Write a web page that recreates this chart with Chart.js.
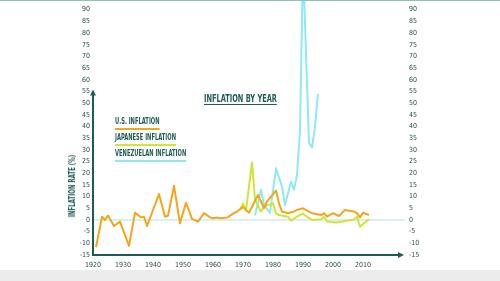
<!DOCTYPE html>
<html lang="en">
<head>
<meta charset="UTF-8">
<title>Inflation by year</title>
<style>
    body {
        margin: 0;
        width: 500px;
        height: 281px;
        overflow: hidden;
        position: relative;
        background: #fff;
        font-family: "Liberation Sans Narrow", "DejaVu Sans Condensed", sans-serif;
    }
    #topline { position: absolute; left: 0; top: 0; width: 500px; height: 1px; background: #8cc4bc; z-index: 2; }
    #bottomband { position: absolute; left: 0; top: 270px; width: 500px; height: 11px; background: #ececec; }
    #wrap { position: absolute; left: 0; top: -20px; width: 500px; height: 290px; }
    .txt { position: absolute; color: #1f5b55; font-weight: bold; white-space: nowrap; line-height: 10px; }
    #title { left: 204px; top: 93px; font-size: 10.5px; line-height: 10px; padding-bottom: 1px;
        border-bottom: 1px solid #1f5b55; transform: scaleX(0.7); transform-origin: left top; }
    .leg { left: 115px; font-size: 8px; padding-bottom: 1px; transform: scaleX(0.72); transform-origin: left top; }
    #legUS { top: 117px; border-bottom: 2px solid #f2a71b; }
    #legJP { top: 133px; border-bottom: 2px solid #cfe636; }
    #legVE { top: 149px; border-bottom: 2px solid #8ee9f3; }
    #ytitle { left: 73px; top: 186px; font-size: 8px; transform: translate(-50%, -50%) rotate(-90deg) scaleX(0.76); }
</style>
<script src="https://cdn.jsdelivr.net/npm/chart.js"></script>
</head>
<body>
<div id="topline"></div>
<div id="bottomband"></div>
<div id="wrap"><canvas id="chart" width="500" height="290"></canvas></div>
<div class="txt" id="title">INFLATION BY YEAR</div>
<div class="txt leg" id="legUS">U.S. INFLATION</div>
<div class="txt leg" id="legJP">JAPANESE INFLATION</div>
<div class="txt leg" id="legVE">VENEZUELAN INFLATION</div>
<div class="txt" id="ytitle">INFLATION RATE (%)</div>

<script>
// years and values (%)
const usYears = [1921, 1923, 1924, 1925, 1927, 1929, 1932, 1934, 1936, 1937, 1938, 1942, 1944, 1945, 1947, 1949,
    1951, 1953, 1955, 1957, 1959, 1960, 1961, 1963, 1965, 1966, 1967, 1968, 1970, 1972, 1975, 1977, 1978, 1981,
    1982, 1983, 1985, 1987, 1988, 1990, 1992, 1993, 1996, 1997, 1998, 2000, 2002, 2004, 2007, 2008, 2009, 2010, 2012];
const usValues = [-11.7, 1.4, 0, 1.9, -2.6, -0.7, -11.1, 3.1, 1.1, 1.4, -2.6, 11.1, 1.4, 1.8, 14.6, -1.4,
    7.4, 0.5, -0.7, 3.0, 1.1, 0.7, 1.0, 0.7, 1.1, 2.1, 2.9, 3.6, 5.5, 3.1, 10.7, 5.0, 7.9, 12.6,
    7.1, 3.6, 2.9, 3.6, 4.3, 5.0, 3.6, 2.9, 2.1, 2.9, 1.4, 2.9, 1.7, 4.3, 3.6, 2.9, 1.1, 3.1, 2.1];

const jpYears = [1969, 1970, 1971, 1973, 1974, 1976, 1977, 1980, 1981, 1982, 1985, 1986, 1988, 1990, 1991,
    1993, 1996, 1997, 1998, 2001, 2003, 2006, 2007, 2008, 2009, 2011, 2012];
const jpValues = [4.5, 7.1, 4.0, 24.6, 8.6, 3.6, 5.7, 7.1, 2.9, 2.1, 1.4, -0.3, 1.4, 2.8, 1.6,
    0, 0.3, 1.4, -0.7, -1.1, -0.7, 0, 0.3, 1.4, -2.9, -0.7, 0.3];

const veYears = [1974, 1976, 1977, 1979, 1981, 1983, 1984, 1986, 1987, 1988, 1989, 1990, 1992, 1993, 1994, 1995];
const veValues = [2.0, 12.9, 6.4, 3.0, 22.1, 14.3, 6.4, 16.4, 12.9, 19.3, 38.0, 110, 33.0, 31.0, 40.0, 54.0];

const yearMin = 1920, yearMax = 2024;
const rateMin = -15, rateMax = 95;

const teal = '#1f5b55';
const tickFont = { family: '"Liberation Sans Narrow", "DejaVu Sans Condensed", sans-serif', size: 7 };

function toPoints(xs, ys) {
    return xs.map((x, i) => ({ x: x, y: ys[i] }));
}

// zero line and axis arrows
const axesPlugin = {
    id: 'axesArrows',
    beforeDatasetsDraw(chart) {
        const ctx = chart.ctx;
        const x = chart.scales.x, y = chart.scales.y;
        const x0 = x.getPixelForValue(yearMin);
        const x1 = x.getPixelForValue(yearMax);
        const yb = y.getPixelForValue(rateMin);
        const yz = y.getPixelForValue(0);
        const yt = y.getPixelForValue(55);

        ctx.save();
        ctx.strokeStyle = '#b3e3e3';
        ctx.lineWidth = 1;
        ctx.beginPath();
        ctx.moveTo(x0, yz);
        ctx.lineTo(x1, yz);
        ctx.stroke();

        ctx.strokeStyle = teal;
        ctx.fillStyle = teal;
        ctx.lineWidth = 2;
        ctx.beginPath();
        ctx.moveTo(x0, yb);
        ctx.lineTo(x0, yt + 3);
        ctx.moveTo(x0 - 1, yb);
        ctx.lineTo(x1 - 4, yb);
        ctx.stroke();

        ctx.beginPath();
        ctx.moveTo(x0, yt - 2);
        ctx.lineTo(x0 - 3, yt + 4);
        ctx.lineTo(x0 + 3, yt + 4);
        ctx.closePath();
        ctx.fill();

        ctx.beginPath();
        ctx.moveTo(x1 - 1, yb);
        ctx.lineTo(x1 - 7, yb - 3);
        ctx.lineTo(x1 - 7, yb + 3);
        ctx.closePath();
        ctx.fill();
        ctx.restore();
    }
};

const lineStyle = { borderWidth: 2, pointRadius: 0, tension: 0, borderJoinStyle: 'round', fill: false };

new Chart(document.getElementById('chart'), {
    type: 'line',
    data: {
        datasets: [
            Object.assign({ label: 'U.S. Inflation', data: toPoints(usYears, usValues), borderColor: '#f2a71b' }, lineStyle),
            Object.assign({ label: 'Japanese Inflation', data: toPoints(jpYears, jpValues), borderColor: '#cfe636' }, lineStyle),
            Object.assign({ label: 'Venezuelan Inflation', data: toPoints(veYears, veValues), borderColor: '#8ee9f3' }, lineStyle)
        ]
    },
    options: {
        responsive: false,
        animation: false,
        layout: { padding: { left: 53, right: 65, top: 18, bottom: 0 } },
        scales: {
            x: {
                type: 'linear',
                min: yearMin,
                max: yearMax,
                grid: { display: false, drawTicks: false },
                border: { display: false },
                afterFit(scale) { scale.height = 15; },
                afterBuildTicks(scale) { scale.ticks = scale.ticks.filter(t => t.value % 10 === 0); },
                ticks: { stepSize: 10, padding: 6, maxRotation: 0, autoSkip: false, color: '#2d4f4c', font: tickFont,
                    callback: v => String(v) }
            },
            y: {
                position: 'left',
                min: rateMin,
                max: rateMax,
                grid: { display: false, drawTicks: false },
                border: { display: false },
                afterFit(scale) { scale.width = 40; },
                ticks: { stepSize: 5, padding: 3, autoSkip: false, color: '#2d4f4c', font: tickFont,
                    callback: v => String(v) }
            },
            y2: {
                position: 'right',
                min: rateMin,
                max: rateMax,
                grid: { display: false, drawTicks: false },
                border: { display: false },
                afterFit(scale) { scale.width = 30; },
                ticks: { stepSize: 5, padding: 4, autoSkip: false, color: '#2d4f4c', font: tickFont,
                    callback: v => String(v) }
            }
        },
        plugins: {
            legend: { display: false },
            tooltip: { enabled: false }
        }
    },
    plugins: [axesPlugin]
});
</script>
</body>
</html>
